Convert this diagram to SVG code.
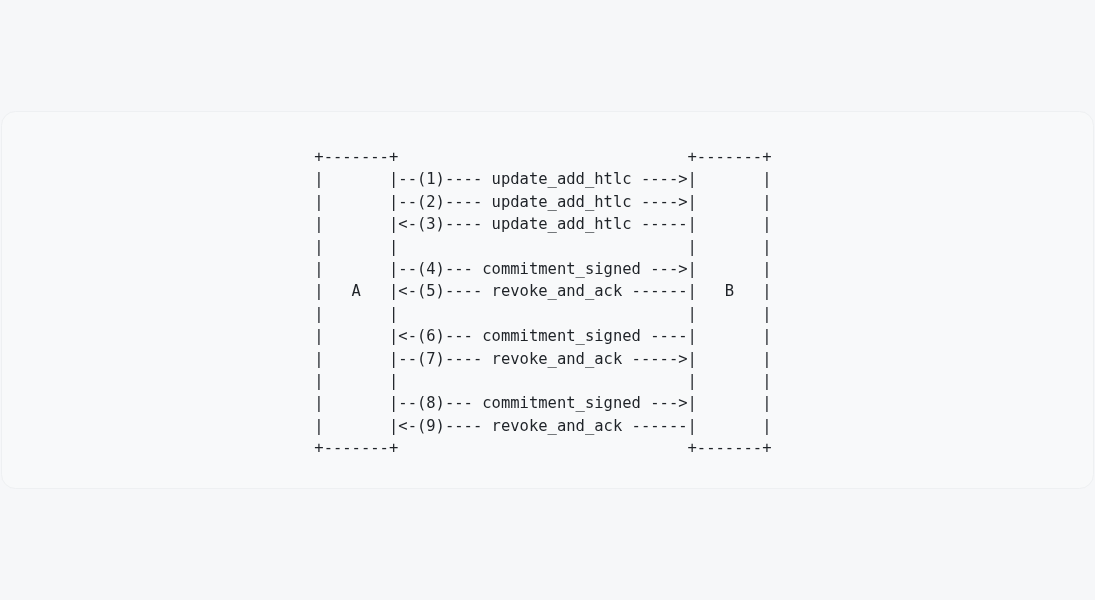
<svg xmlns="http://www.w3.org/2000/svg" width="1095" height="600" viewBox="0 0 1095 600">
<defs>
<filter id="gray" x="0" y="0" width="1095" height="600" filterUnits="userSpaceOnUse"><feOffset dx="0" dy="0"/></filter>
</defs>
<style>
text{font-family:"DejaVu Sans Mono","Liberation Mono",monospace;font-size:15.5px;fill:#1f2328;white-space:pre}
</style>
<rect x="0" y="0" width="1095" height="600" fill="#f6f7f9"/>
<rect x="1.5" y="111.5" width="1092" height="377" rx="14" fill="#f8f9fa" stroke="#eef0f2" stroke-width="1"/>
<g filter="url(#gray)">
<g id="node-A">
<text xml:space="preserve" x="314.3" y="162">+-------+</text>
<text xml:space="preserve" x="314.3" y="184.4">|       |</text>
<text xml:space="preserve" x="314.3" y="206.8">|       |</text>
<text xml:space="preserve" x="314.3" y="229.2">|       |</text>
<text xml:space="preserve" x="314.3" y="251.6">|       |</text>
<text xml:space="preserve" x="314.3" y="274">|       |</text>
<text xml:space="preserve" x="314.3" y="296.4">|   A   |</text>
<text xml:space="preserve" x="314.3" y="318.8">|       |</text>
<text xml:space="preserve" x="314.3" y="341.2">|       |</text>
<text xml:space="preserve" x="314.3" y="363.6">|       |</text>
<text xml:space="preserve" x="314.3" y="386">|       |</text>
<text xml:space="preserve" x="314.3" y="408.4">|       |</text>
<text xml:space="preserve" x="314.3" y="430.8">|       |</text>
<text xml:space="preserve" x="314.3" y="453.2">+-------+</text>
</g>
<g id="node-B">
<text xml:space="preserve" x="687.5" y="162">+-------+</text>
<text xml:space="preserve" x="687.5" y="184.4">|       |</text>
<text xml:space="preserve" x="687.5" y="206.8">|       |</text>
<text xml:space="preserve" x="687.5" y="229.2">|       |</text>
<text xml:space="preserve" x="687.5" y="251.6">|       |</text>
<text xml:space="preserve" x="687.5" y="274">|       |</text>
<text xml:space="preserve" x="687.5" y="296.4">|   B   |</text>
<text xml:space="preserve" x="687.5" y="318.8">|       |</text>
<text xml:space="preserve" x="687.5" y="341.2">|       |</text>
<text xml:space="preserve" x="687.5" y="363.6">|       |</text>
<text xml:space="preserve" x="687.5" y="386">|       |</text>
<text xml:space="preserve" x="687.5" y="408.4">|       |</text>
<text xml:space="preserve" x="687.5" y="430.8">|       |</text>
<text xml:space="preserve" x="687.5" y="453.2">+-------+</text>
</g>
<g id="connectors">
<text xml:space="preserve" x="398.3" y="184.4">--(1)---- update_add_htlc ----&gt;</text>
<text xml:space="preserve" x="398.3" y="206.8">--(2)---- update_add_htlc ----&gt;</text>
<text xml:space="preserve" x="398.3" y="229.2">&lt;-(3)---- update_add_htlc -----</text>
<text xml:space="preserve" x="398.3" y="274">--(4)--- commitment_signed ---&gt;</text>
<text xml:space="preserve" x="398.3" y="296.4">&lt;-(5)---- revoke_and_ack ------</text>
<text xml:space="preserve" x="398.3" y="341.2">&lt;-(6)--- commitment_signed ----</text>
<text xml:space="preserve" x="398.3" y="363.6">--(7)---- revoke_and_ack -----&gt;</text>
<text xml:space="preserve" x="398.3" y="408.4">--(8)--- commitment_signed ---&gt;</text>
<text xml:space="preserve" x="398.3" y="430.8">&lt;-(9)---- revoke_and_ack ------</text>
</g>
</g>
</svg>
